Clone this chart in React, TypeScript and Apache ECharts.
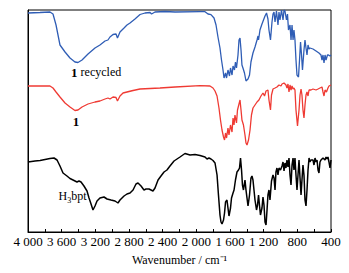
import React, { useEffect, useRef } from "react";
import * as echarts from "echarts";

// Wavenumber (cm^-1) vs. offset transmittance (arbitrary units)
const recycled: [number, number][] = [
  [4000, 219], [3857, 219.5], [3739, 220], [3703, 218], [3667, 207], [3620, 187], [3560, 180], [3501, 174],
  [3442, 170], [3406, 169.5], [3358, 172], [3287, 178], [3204, 184], [3145, 187], [3085, 191], [3050, 192],
  [3026, 195], [2990, 197.5], [2954, 198], [2937, 194], [2907, 200], [2859, 204], [2824, 207], [2788, 209],
  [2729, 213], [2669, 217.5], [2610, 219], [2550, 219.5], [2532, 218], [2491, 220], [2372, 220.5], [2253, 220],
  [1956, 220.3], [1897, 220.3], [1861, 218], [1826, 217.4], [1790, 214], [1766, 207], [1743, 195], [1719, 184],
  [1701, 172], [1683, 162], [1671, 154], [1653, 159], [1641, 154], [1624, 162], [1606, 156], [1594, 164],
  [1576, 157], [1564, 166], [1547, 162], [1535, 170], [1523, 164], [1505, 177], [1493, 192], [1481, 194],
  [1469, 182], [1458, 167], [1446, 164], [1428, 159], [1410, 151], [1386, 153], [1368, 157], [1351, 170],
  [1327, 179], [1303, 185], [1279, 192], [1267, 196], [1261, 192], [1244, 202], [1220, 208], [1202, 212],
  [1184, 216], [1166, 219], [1149, 213], [1137, 202], [1119, 192], [1101, 210], [1089, 218], [1077, 220],
  [1065, 210], [1048, 221], [1030, 207], [1018, 220], [1006, 212], [988, 222], [970, 212], [958, 222],
  [947, 221], [929, 212], [917, 218], [905, 202], [887, 207], [875, 192], [863, 207], [851, 192],
  [840, 202], [828, 192], [816, 172], [804, 157], [786, 155], [774, 172], [762, 190], [750, 177],
  [739, 162], [721, 182], [709, 192], [697, 184], [685, 177], [673, 187], [661, 183], [650, 184],
  [614, 183], [578, 181], [543, 179], [519, 177], [507, 172], [495, 177], [483, 169], [471, 177],
  [459, 172], [442, 177], [430, 177], [412, 176], [400, 177],
];

const fresh: [number, number][] = [
  [4000, 146], [3739, 146], [3703, 144], [3667, 140], [3620, 135], [3560, 129], [3501, 125], [3442, 121.5],
  [3406, 122], [3358, 125], [3287, 128], [3204, 130], [3145, 131], [3085, 133], [3050, 134], [3026, 133],
  [2990, 135], [2954, 134.5], [2937, 131], [2907, 136], [2871, 139], [2824, 140], [2752, 141.5], [2669, 143],
  [2550, 143.5], [2432, 144], [2253, 145], [1956, 146.3], [1838, 146], [1802, 144], [1778, 141], [1754, 136],
  [1731, 124], [1713, 112], [1695, 102], [1677, 95], [1665, 92], [1653, 99], [1641, 94], [1624, 104],
  [1612, 97], [1594, 107], [1576, 100], [1564, 114], [1552, 107], [1541, 117], [1523, 109], [1511, 122],
  [1493, 128], [1481, 132], [1469, 122], [1458, 112], [1440, 107], [1422, 97], [1410, 89], [1398, 87],
  [1380, 92], [1362, 102], [1345, 117], [1327, 124], [1303, 127], [1279, 130], [1256, 132], [1232, 136],
  [1208, 139], [1190, 136], [1172, 141], [1149, 142], [1137, 132], [1119, 122], [1107, 137], [1089, 143],
  [1065, 144], [1042, 145], [1018, 147], [994, 146], [982, 148], [958, 149], [935, 147], [923, 144],
  [911, 148], [899, 140], [887, 147], [875, 142], [863, 146], [851, 143], [840, 144], [828, 142],
  [816, 122], [798, 106], [780, 122], [768, 137], [756, 143], [745, 137], [733, 122], [721, 114],
  [709, 127], [697, 137], [685, 140], [673, 136], [661, 142], [638, 142], [614, 143], [578, 142],
  [554, 143], [531, 144], [507, 145], [495, 140], [483, 136], [471, 142], [454, 140], [436, 144],
  [424, 146], [400, 147],
];

const ligand: [number, number][] = [
  [4000, 70], [3917, 71], [3857, 71.5], [3798, 72.5], [3739, 73.5], [3691, 74], [3655, 72], [3620, 66],
  [3584, 59], [3537, 56], [3501, 53.5], [3453, 51.5], [3418, 50], [3394, 51], [3370, 50], [3335, 46],
  [3299, 41], [3275, 34], [3251, 28], [3228, 22], [3204, 26], [3180, 31], [3145, 34], [3097, 35],
  [3061, 33], [3014, 32], [2966, 31], [2931, 29], [2907, 32], [2859, 36], [2824, 38], [2788, 39],
  [2752, 42], [2717, 48], [2693, 49], [2657, 46], [2622, 42], [2598, 43], [2562, 43], [2515, 41],
  [2491, 44], [2455, 52], [2420, 56], [2384, 60], [2349, 62], [2313, 66], [2265, 71], [2194, 75],
  [2135, 78.5], [2075, 77], [2016, 77.5], [1956, 76.5], [1897, 75], [1873, 73], [1850, 74], [1826, 73],
  [1802, 71.5], [1778, 69], [1754, 57], [1737, 37], [1719, 17], [1707, 10], [1695, 8], [1677, 12],
  [1665, 19], [1653, 30], [1636, 32], [1624, 24], [1612, 16], [1594, 24], [1582, 34], [1564, 39],
  [1552, 42], [1535, 52], [1517, 60], [1499, 62], [1487, 64], [1475, 74], [1463, 62], [1452, 47],
  [1440, 42], [1422, 52], [1410, 42], [1398, 34], [1386, 26], [1368, 37], [1351, 54], [1339, 56],
  [1327, 52], [1315, 42], [1303, 32], [1285, 22], [1273, 27], [1261, 37], [1250, 27], [1238, 17],
  [1220, 24], [1208, 35], [1196, 27], [1184, 10], [1172, 7], [1160, 22], [1149, 37], [1137, 42],
  [1125, 32], [1107, 51], [1089, 57], [1077, 54], [1065, 42], [1054, 60], [1042, 64], [1030, 57],
  [1018, 64], [1000, 62], [982, 66], [970, 70], [958, 61], [947, 69], [935, 64], [923, 72],
  [911, 65], [899, 74], [887, 57], [875, 47], [863, 67], [851, 74], [840, 62], [828, 74],
  [816, 57], [804, 42], [792, 57], [780, 72], [768, 54], [756, 37], [745, 52], [733, 67],
  [721, 57], [709, 32], [697, 26], [685, 42], [673, 62], [661, 74], [650, 70], [638, 72],
  [614, 72], [602, 67], [590, 74], [578, 70], [566, 72], [554, 62], [543, 59], [531, 70],
  [519, 72], [495, 74], [471, 72], [459, 75], [448, 73], [436, 75], [424, 70], [412, 64], [400, 72],
];

const seriesNames = ["1 recycled", "1", "H3bpt"];
const seriesColors = ["#2f5db5", "#ef3a33", "#000000"];
const labelText = ["{b|1} recycled", "{b|1}", "H{sub|3}bpt"];
const labelCoords: [number, number][] = [[3190, 160], [3430, 111], [3470, 36]];

const xMin = 400;
const xMax = 4000;
const xInterval = 400;
const xName = "Wavenumber / cm⁻¹";

const FONT = "Liberation Serif";

function fmtTick(v: number): string {
  if (v >= 1000) {
    const th = Math.floor(v / 1000);
    const rest = String(v % 1000).padStart(3, "0");
    return `${th} ${rest}`;
  }
  return String(v);
}

export default function App() {
  const ref = useRef<HTMLDivElement>(null);

  useEffect(() => {
    document.body.style.margin = "0";
    if (!ref.current) return;
    const chart = echarts.init(ref.current, undefined, { renderer: "svg" });
    const datasets = [recycled, fresh, ligand];
    chart.setOption({
      animation: false,
      backgroundColor: "#ffffff",
      textStyle: { fontFamily: FONT },
      grid: {
        left: 28,
        right: 18,
        top: 10,
        bottom: 41,
        show: true,
        borderColor: "#000",
        borderWidth: 1,
        backgroundColor: "transparent",
      },
      xAxis: {
        type: "value",
        inverse: true,
        min: xMin,
        max: xMax,
        interval: xInterval,
        name: xName,
        nameLocation: "middle",
        nameGap: 22,
        nameTextStyle: { fontFamily: FONT, fontSize: 12, color: "#000" },
        axisLine: { show: true, lineStyle: { color: "#000", width: 1 } },
        axisTick: { show: true, inside: true, length: 3, lineStyle: { color: "#000" } },
        minorTick: { show: true, splitNumber: 2, length: 3, lineStyle: { color: "#000" } },
        splitLine: { show: false },
        axisLabel: {
          fontFamily: FONT,
          fontSize: 13,
          color: "#000",
          margin: 3,
          formatter: (v: number) => fmtTick(v),
        },
      },
      yAxis: {
        type: "value",
        min: 0,
        max: 222,
        show: true,
        axisLine: { show: true, lineStyle: { color: "#000", width: 1 } },
        axisTick: { show: false },
        axisLabel: { show: false },
        splitLine: { show: false },
      },
      series: datasets.map((d, i) => ({
        name: seriesNames[i],
        type: "line",
        data: d,
        showSymbol: false,
        symbol: "none",
        smooth: false,
        lineStyle: { color: seriesColors[i], width: i === 2 ? 1.5 : 1.3 },
        itemStyle: { color: seriesColors[i] },
        z: 3 - i,
        markPoint: {
          silent: true,
          symbol: "circle",
          symbolSize: 1,
          itemStyle: { color: "rgba(0,0,0,0)" },
          label: {
            show: true,
            position: "inside",
            formatter: labelText[i],
            fontFamily: FONT,
            fontSize: 12,
            color: "#000",
            rich: {
              b: { fontFamily: FONT, fontSize: 13, fontWeight: "bold", color: "#000" },
              sub: { fontFamily: FONT, fontSize: 8, color: "#000", padding: [8, 0, 0, 0] },
            },
          },
          data: [{ coord: labelCoords[i] }],
        },
      })),
    });
    return () => chart.dispose();
  }, []);

  return <div ref={ref} style={{ width: 349, height: 273 }} />;
}
